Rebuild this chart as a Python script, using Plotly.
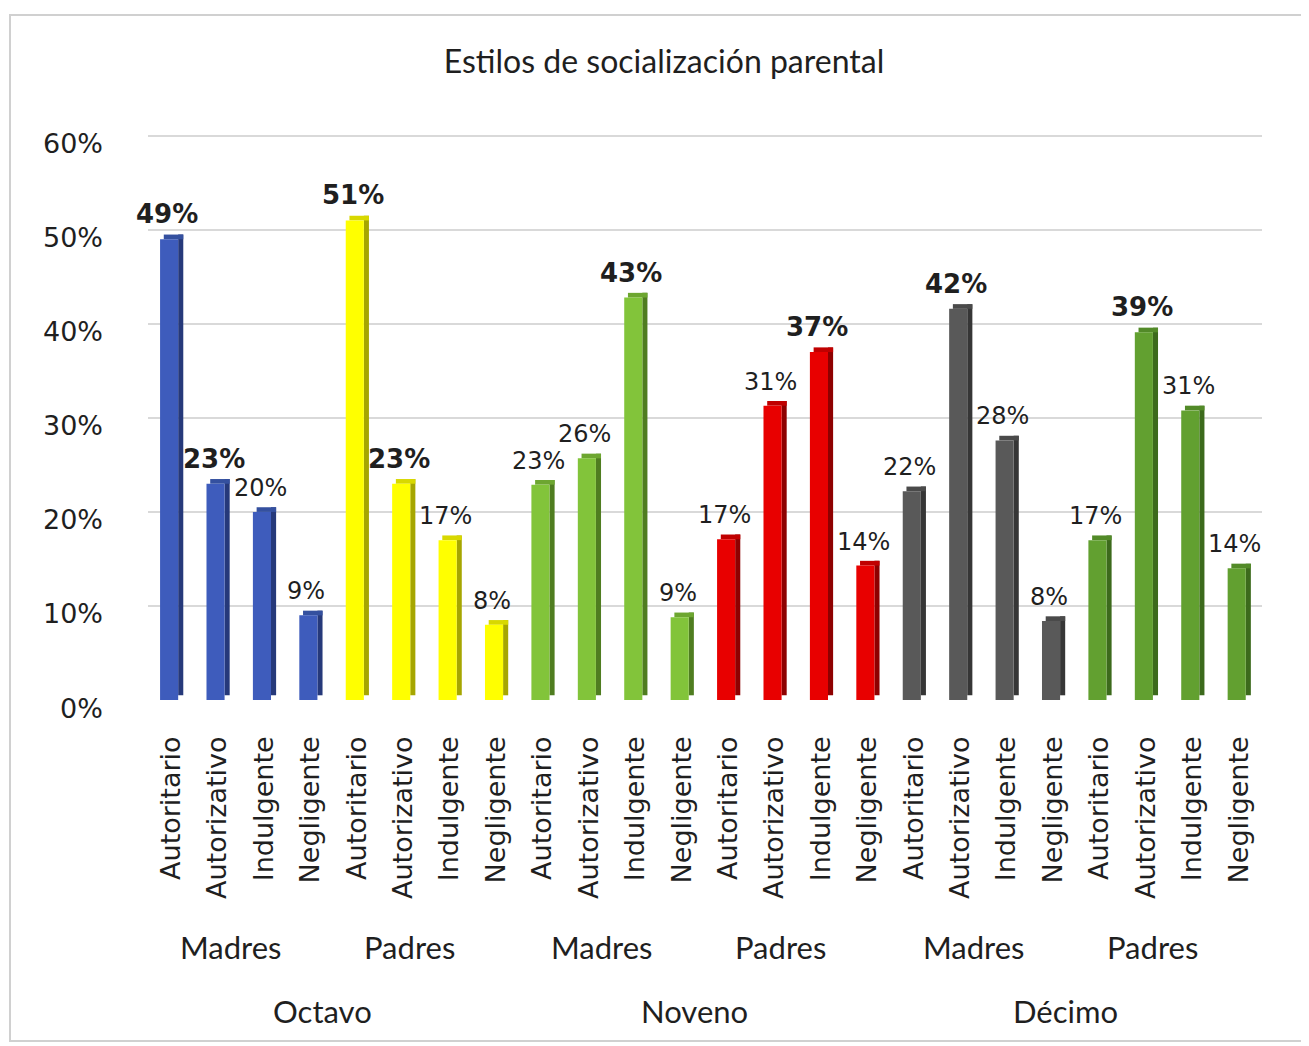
import plotly.graph_objects as go

# ---- data ----
grades = ["Octavo", "Noveno", "Décimo"]
parents = ["Madres", "Padres"]
styles = ["Autoritario", "Autorizativo", "Indulgente", "Negligente"]

octavo_madres = [49.0, 23.0, 20.0, 9.0]
octavo_padres = [51.0, 23.0, 17.0, 8.0]
noveno_madres = [22.9, 25.7, 42.8, 8.8]
noveno_padres = [17.1, 31.3, 37.0, 14.3]
decimo_madres = [22.2, 41.6, 27.6, 8.4]
decimo_padres = [17.0, 39.1, 30.8, 14.0]

bold_octavo_madres = [True, True, False, False]
bold_octavo_padres = [True, True, False, False]
bold_noveno_madres = [False, False, True, False]
bold_noveno_padres = [False, False, True, False]
bold_decimo_madres = [False, True, False, False]
bold_decimo_padres = [False, True, False, False]

y_ticks = [0, 10, 20, 30, 40, 50, 60]

group_values = [octavo_madres, octavo_padres, noveno_madres,
                noveno_padres, decimo_madres, decimo_padres]
group_bold = [bold_octavo_madres, bold_octavo_padres, bold_noveno_madres,
              bold_noveno_padres, bold_decimo_madres, bold_decimo_padres]

front_colors = ["#3e5cbc", "#ffff00", "#82c43a", "#e80000", "#595959", "#62a030"]
side_colors = ["#26397a", "#a6a600", "#4f7d20", "#8e0000", "#363636", "#3c6a1c"]
cap_colors = ["#34509f", "#d8d800", "#6da630", "#c00000", "#4a4a4a", "#528a28"]

FONT = "DejaVu Sans"
TFONT = "Lato"
TXT = "#1f1f1f"

# page is rendered with an 8px body margin -> work in figure coords
OFF = 8
W, H = 1309 - OFF, 1046 - OFF
ml = 148 - OFF
mt = 133 - OFF
mr = W - (1262 - OFF)
mb = H - (700 - OFF)
pw = W - ml - mr
ph = H - mt - mb

fig = go.Figure()
annotations = []
n_per = len(styles)

for g, vals in enumerate(group_values):
    xs = [g * n_per + k for k in range(n_per)]
    # side face (3D depth)
    fig.add_trace(go.Bar(
        x=xs, y=vals, base=[0.5] * n_per, width=0.11, offset=0.15,
        marker=dict(color=side_colors[g], line=dict(width=0)),
        showlegend=False, hoverinfo="skip"))
    # top cap
    fig.add_trace(go.Bar(
        x=xs, y=[0.5] * n_per, base=vals, width=0.42, offset=-0.16,
        marker=dict(color=cap_colors[g], line=dict(width=0)),
        showlegend=False, hoverinfo="skip"))
    # front face
    fig.add_trace(go.Bar(
        x=xs, y=vals, width=0.39, offset=-0.24,
        marker=dict(color=front_colors[g], line=dict(width=0)),
        showlegend=False))
    for x, v, b in zip(xs, vals, group_bold[g]):
        label = "{:.0f}%".format(v)
        annotations.append(dict(
            x=x, y=v, xref="x", yref="y",
            text=("<b>%s</b>" % label) if b else label,
            showarrow=False, yanchor="bottom", xshift=-4, yshift=8,
            font=dict(family=FONT, size=26 if b else 24, color=TXT)))

# y tick labels (Excel 3D places them slightly below the back-wall gridlines)
for t in y_ticks:
    annotations.append(dict(
        x=0, y=t, xref="paper", yref="y", text="%d%%" % t,
        showarrow=False, xanchor="right", yanchor="middle",
        xshift=-43, yshift=-8,
        font=dict(family=FONT, size=27, color=TXT)))

# group labels (Madres / Padres) and grades
for gi, grade in enumerate(grades):
    for pi, par in enumerate(parents):
        idx = (gi * len(parents) + pi) * n_per
        center = idx + (n_per - 1) / 2
        annotations.append(dict(
            x=center, y=0, xref="x", yref="paper", text=par,
            showarrow=False, yanchor="middle", yshift=-247,
            xshift=-10 if pi == 0 else -17,
            font=dict(family=TFONT, size=31, color=TXT)))
    gc = gi * len(parents) * n_per + (len(parents) * n_per - 1) / 2
    annotations.append(dict(
        x=gc, y=0, xref="x", yref="paper", text=grade,
        showarrow=False, yanchor="middle", yshift=-311, xshift=-11,
        font=dict(family=TFONT, size=31, color=TXT)))

n_total = len(group_values) * n_per
tick_text = styles * len(group_values)

fig.update_layout(
    width=W, height=H,
    margin=dict(l=ml, r=mr, t=mt, b=mb),
    paper_bgcolor="white", plot_bgcolor="white",
    barmode="overlay",
    title=dict(text="Estilos de socialización parental",
               x=(664 - OFF) / W, xref="container",
               y=1 - (62 - OFF) / H, yref="container",
               xanchor="center", yanchor="middle",
               font=dict(family=TFONT, size=32, color=TXT)),
    xaxis=dict(range=[-0.5, n_total - 0.5], tickmode="array",
               tickvals=list(range(n_total)), ticktext=tick_text,
               tickangle=-90, showgrid=False, zeroline=False, showline=False,
               ticks="", ticklabelstandoff=30,
               tickfont=dict(family=FONT, size=27, color=TXT)),
    yaxis=dict(range=[0, 60.3], tickmode="array", tickvals=y_ticks,
               showticklabels=False,
               showgrid=True, gridcolor="#d9d9d9", gridwidth=2,
               zeroline=False, showline=False, ticks=""),
    annotations=annotations,
    shapes=[dict(type="rect", xref="paper", yref="paper",
                 x0=(10 - OFF - ml) / pw, x1=(W + 10 - ml) / pw,
                 y0=-((1041 - OFF) - (H - mb)) / ph,
                 y1=((H - mb) - (15 - OFF)) / ph,
                 line=dict(color="#d0d0d0", width=2), layer="below")],
)

fig.write_html("out.html")
